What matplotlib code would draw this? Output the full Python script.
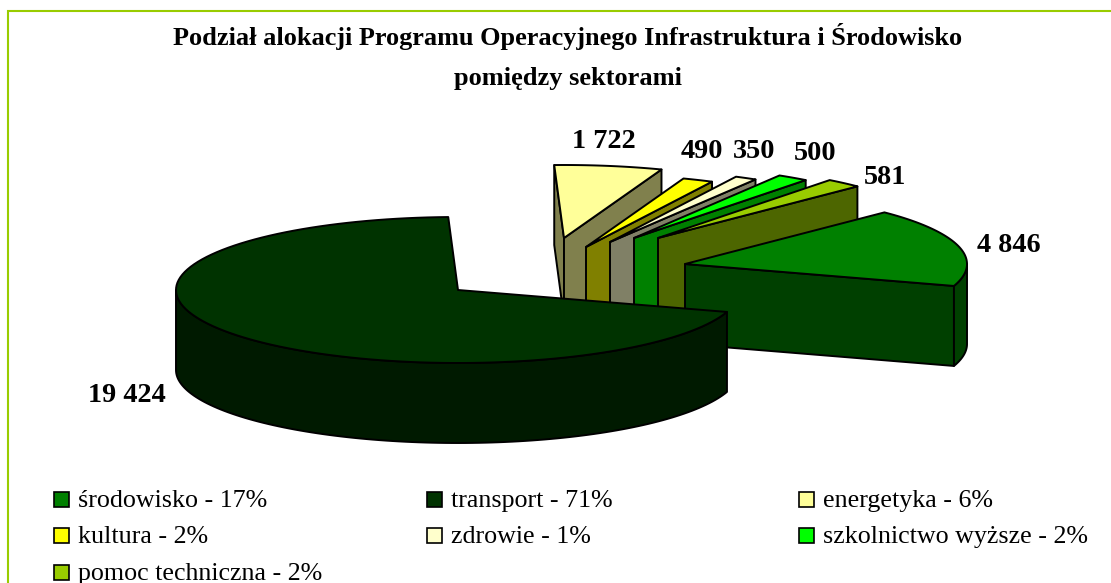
import numpy as np
import matplotlib
matplotlib.use("Agg")
import matplotlib.pyplot as plt
from matplotlib.patches import Polygon, Rectangle

# values, order as in the legend
sectors = ["środowisko", "transport", "energetyka", "kultura", "zdrowie",
           "szkolnictwo wyższe", "pomoc techniczna"]
values = [4846, 19424, 1722, 490, 350, 500, 581]
percents = [17, 71, 6, 2, 1, 2, 2]
value_labels = ["4 846", "19 424", "1 722", "490", "350", "500", "581"]

colors = ["#008000", "#003300", "#FFFF99", "#FFFF00", "#FFFFCC", "#00FF00", "#99CC00"]
side_colors = ["#004000", "#001A00", "#80804D", "#808000", "#808066", "#008000", "#4D6600"]

# where each wedge got pulled out to, pixels from the pie centre
pie_center = (559, 270)
explode_dx = [126, -101, 5, 27, 51, 75, 99]
explode_dy = [-6, 20, -32, -23, -28, -32, -32]
label_xy = [(1009, 245), (127, 396), (604, 141), (702, 151), (754, 152), (815, 153), (885, 177)]
legend_xy = [(61, 500), (434, 500), (806, 500), (61, 536), (434, 536), (806, 536), (61, 573)]

RX, RY = 282, 73
DEPTH = 80
START_ANGLE = 45.0  # ellipse angle where the first slice begins, going clockwise

plt.rcParams["font.family"] = ["Liberation Serif", "DejaVu Serif"]

fig = plt.figure(figsize=(11.11, 5.83), dpi=100)
ax = fig.add_axes([0, 0, 1, 1])
ax.set_xlim(0, 1111)
ax.set_ylim(583, 0)
ax.axis("off")

# frame only shows on the top and the left, the rest is cut off
ax.plot([8, 8, 1111], [583, 11, 11], color="#99CC00", linewidth=1.5, solid_joinstyle="miter")


def rim(cx, cy, t0, t1, n=120):
    t = np.radians(np.linspace(t0, t1, n))
    return np.column_stack([cx + RX * np.cos(t), cy - RY * np.sin(t)])


def draw_slice(cx, cy, t_hi, t_lo, color, side):
    """t_hi > t_lo, angles on the ellipse, slice spans t_lo..t_hi"""
    kw = dict(edgecolor="black", linewidth=1.4, joinstyle="round")
    # radial faces that look towards the viewer
    for t, normal in ((t_hi, t_hi + 90), (t_lo, t_lo - 90)):
        if np.sin(np.radians(normal)) < 0:
            p = rim(cx, cy, t, t, 1)[0]
            ax.add_patch(Polygon([(cx, cy), p, (p[0], p[1] + DEPTH), (cx, cy + DEPTH)],
                                 facecolor=side, **kw))
    # outer wall, only the lower half of the ellipse shows
    for k in (-1, 0, 1):
        a = max(t_lo, 180 + 360 * k)
        b = min(t_hi, 360 + 360 * k)
        if b > a:
            top = rim(cx, cy, a, b)
            low = (top + [0, DEPTH])[::-1]
            ax.add_patch(Polygon(np.vstack([top, low]), facecolor=side, **kw))
    pts = np.vstack([[(cx, cy)], rim(cx, cy, t_lo, t_hi)])
    ax.add_patch(Polygon(pts, facecolor=color, **kw))


sweeps = 360 * np.array(values) / sum(values)
ends = START_ANGLE - np.cumsum(sweeps)
starts = ends + sweeps

# back to front, transport has to land on top of everything
for i in [2, 3, 4, 5, 6, 0, 1]:
    draw_slice(pie_center[0] + explode_dx[i], pie_center[1] + explode_dy[i],
               starts[i], ends[i], colors[i], side_colors[i])

for lab, (x, y) in zip(value_labels, label_xy):
    ax.text(x, y, lab, fontsize=20.3, fontweight="bold", ha="center", va="center")

ax.text(568, 36, "Podział alokacji Programu Operacyjnego Infrastruktura i Środowisko",
        fontsize=18.95, fontweight="bold", ha="center", va="center")
ax.text(568, 78, "pomiędzy sektorami", fontsize=19, fontweight="bold", ha="center", va="center")

for name, pct, col, (x, y) in zip(sectors, percents, colors, legend_xy):
    ax.add_patch(Rectangle((x - 7, y - 8), 15, 15, facecolor=col, edgecolor="black", linewidth=1.2))
    ax.text(x + 17, y + 1, f"{name} - {pct}%", fontsize=18.7, ha="left", va="center")

fig.savefig("out.png", dpi=100)
